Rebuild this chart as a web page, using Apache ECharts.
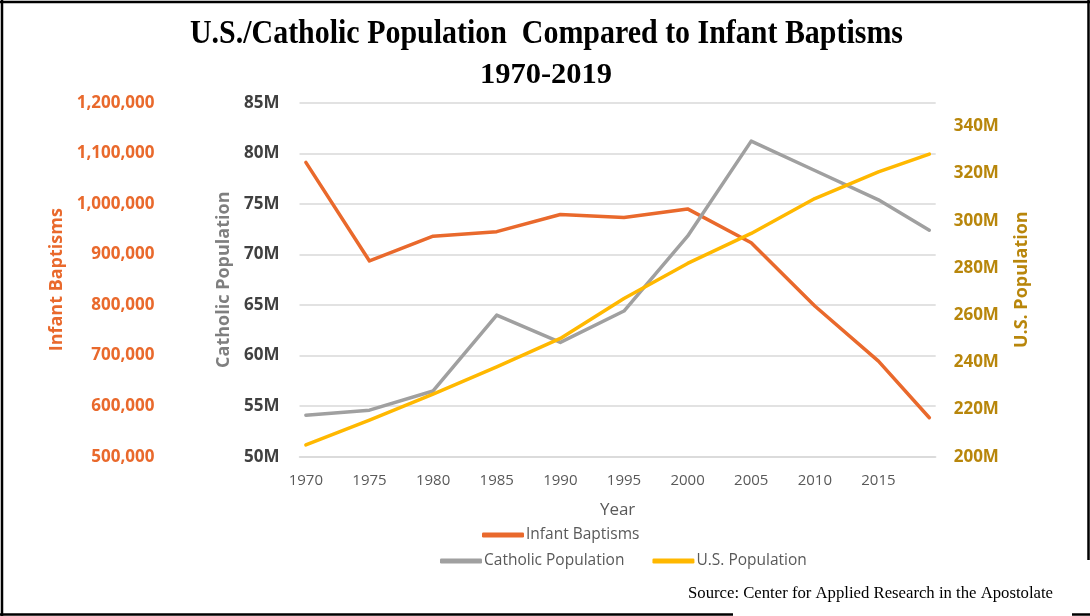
<!DOCTYPE html>
<html>
<head>
<meta charset="utf-8">
<script src="https://cdn.jsdelivr.net/npm/echarts@6/dist/echarts.min.js"></script>
<style>
html,body{margin:0;padding:0;background:#fff;}
#chart{width:1090px;height:616px;}
</style>
</head>
<body>
<div id="chart"></div>
<script>
// ---- data ----
const years = [1970, 1975, 1980, 1985, 1990, 1995, 2000, 2005, 2010, 2015, 2019];
const tickYears = [1970, 1975, 1980, 1985, 1990, 1995, 2000, 2005, 2010, 2015];
const infantBaptisms = [1082000, 887000, 936000, 945000, 979000, 973000, 990000, 923000, 798000, 689000, 577000];
const catholicPopulationM = [54.1, 54.6, 56.5, 64.0, 61.3, 64.4, 71.8, 81.2, 78.3, 75.4, 72.4];
const usPopulationM = [205.0, 215.5, 226.5, 238.1, 250.1, 267.0, 281.9, 294.6, 309.4, 320.7, 328.2];
const seriesNames = ['Infant Baptisms', 'Catholic Population', 'U.S. Population'];
const titleLine1 = 'U.S./Catholic Population  Compared to Infant Baptisms';
const titleLine2 = '1970-2019';
const sourceText = 'Source: Center for Applied Research in the Apostolate';

const ORANGE = '#E9692C', GRAY = '#A0A0A0', YELLOW = '#FFB800', GOLD = '#B8860B';

function pairs(vals) { return years.map((y, i) => [y, vals[i]]); }

// measure helper for condensed serif texts
const mctx = document.createElement('canvas').getContext('2d');
function fitScale(text, font, target) {
  mctx.font = font;
  return target / mctx.measureText(text).width;
}
const t1Font = 'bold 34px "Liberation Serif"';
const t2Font = 'bold 30px "Liberation Serif"';
const srcFont = '16px "Liberation Serif"';
const s1 = fitScale(titleLine1, t1Font, 713);
const s2 = fitScale(titleLine2, t2Font, 132);
const s3 = fitScale(sourceText, srcFont, 365);

const chart = echarts.init(document.getElementById('chart'), null, {renderer: 'canvas'});
const labelFont = '"Open Sans", sans-serif';

chart.setOption({
  backgroundColor: '#fff',
  animation: false,
  grid: {left: 299.5, right: 154.3, top: 102.7, bottom: 159.3, containLabel: false},
  legend: [
    {
      data: [seriesNames[0]], left: 482, top: 527, padding: 0, itemWidth: 42, itemHeight: 5, itemGap: 28,
      icon: 'roundRect', textStyle: {color: '#595959', fontSize: 15.5, fontFamily: labelFont, padding: [0,0,0,-3]}
    },
    {
      data: [seriesNames[1], seriesNames[2]], left: 440, top: 553, padding: 0, itemWidth: 42, itemHeight: 5, itemGap: 28,
      icon: 'roundRect', textStyle: {color: '#595959', fontSize: 15.5, fontFamily: labelFont, padding: [0,0,0,-3]}
    }
  ],
  xAxis: {
    type: 'value', min: 1969.5, max: 2019.5,
    name: 'Year', nameLocation: 'middle', nameGap: 45,
    nameTextStyle: {color: '#595959', fontSize: 17, fontFamily: labelFont},
    axisLine: {show: true, lineStyle: {color: '#D9D9D9', width: 1.5}},
    axisTick: {show: false},
    splitLine: {show: false},
    axisLabel: {customValues: tickYears, formatter: v => String(v), color: '#595959', fontSize: 15, fontFamily: labelFont, margin: 17}
  },
  yAxis: [
    {
      type: 'value', position: 'left', min: 50, max: 85, interval: 5,
      name: 'Catholic Population', nameLocation: 'middle', nameGap: 66,
      nameTextStyle: {color: '#7F7F7F', fontSize: 18, fontWeight: 'bold', fontFamily: labelFont},
      axisLine: {show: false}, axisTick: {show: false},
      splitLine: {show: true, lineStyle: {color: '#D9D9D9', width: 1.5}},
      axisLabel: {formatter: '{value}M', color: '#404040', fontSize: 17, fontWeight: 'bold', fontFamily: labelFont, margin: 20}
    },
    {
      type: 'value', position: 'left', offset: 125, min: 500000, max: 1200000, interval: 100000,
      name: 'Infant Baptisms', nameLocation: 'middle', nameGap: 109,
      nameTextStyle: {color: ORANGE, fontSize: 18, fontWeight: 'bold', fontFamily: labelFont},
      axisLine: {show: false}, axisTick: {show: false}, splitLine: {show: false},
      axisLabel: {formatter: v => v.toLocaleString('en-US'), color: ORANGE, fontSize: 17, fontWeight: 'bold', fontFamily: labelFont, margin: 20}
    },
    {
      type: 'value', position: 'right', min: 200, max: 350, interval: 20,
      name: 'U.S. Population', nameLocation: 'middle', nameGap: 77, nameRotate: 90,
      nameTextStyle: {color: GOLD, fontSize: 18, fontWeight: 'bold', fontFamily: labelFont},
      axisLine: {show: false}, axisTick: {show: false}, splitLine: {show: false},
      axisLabel: {formatter: '{value}M', showMaxLabel: false, color: GOLD, fontSize: 17, fontWeight: 'bold', fontFamily: labelFont, margin: 18}
    }
  ],
  series: [
    {name: seriesNames[0], type: 'line', yAxisIndex: 1, data: pairs(infantBaptisms), showSymbol: false, symbol: 'none',
     lineStyle: {color: ORANGE, width: 3.5, cap: 'round', join: 'round'}, itemStyle: {color: ORANGE}},
    {name: seriesNames[1], type: 'line', yAxisIndex: 0, data: pairs(catholicPopulationM), showSymbol: false, symbol: 'none',
     lineStyle: {color: GRAY, width: 3.5, cap: 'round', join: 'round'}, itemStyle: {color: GRAY}},
    {name: seriesNames[2], type: 'line', yAxisIndex: 2, data: pairs(usPopulationM), showSymbol: false, symbol: 'none',
     lineStyle: {color: YELLOW, width: 3.5, cap: 'round', join: 'round'}, itemStyle: {color: YELLOW}}
  ],
  graphic: [
    {type: 'text', x: 546.5, y: 34, scaleX: s1, silent: true,
     style: {text: titleLine1, font: t1Font, fill: '#000', textAlign: 'center', textVerticalAlign: 'middle'}},
    {type: 'text', x: 546, y: 75, scaleX: s2, silent: true,
     style: {text: titleLine2, font: t2Font, fill: '#000', textAlign: 'center', textVerticalAlign: 'middle'}},
    {type: 'text', x: 1053, y: 594, scaleX: s3, silent: true,
     style: {text: sourceText, font: srcFont, fill: '#000', textAlign: 'right', textVerticalAlign: 'middle'}},
    {type: 'line', silent: true, shape: {x1: 2, y1: 0, x2: 2, y2: 616}, style: {stroke: '#000', lineWidth: 2.5}},
    {type: 'line', silent: true, shape: {x1: 0, y1: 2, x2: 1090, y2: 2}, style: {stroke: '#000', lineWidth: 2.5}},
    {type: 'line', silent: true, shape: {x1: 1088.5, y1: 0, x2: 1088.5, y2: 560}, style: {stroke: '#000', lineWidth: 2.5}},
    {type: 'line', silent: true, shape: {x1: 0, y1: 614.5, x2: 733, y2: 614.5}, style: {stroke: '#000', lineWidth: 2.5}},
    {type: 'line', silent: true, shape: {x1: 1072, y1: 614.5, x2: 1090, y2: 614.5}, style: {stroke: '#000', lineWidth: 2.5}}
  ]
});
</script>
</body>
</html>
